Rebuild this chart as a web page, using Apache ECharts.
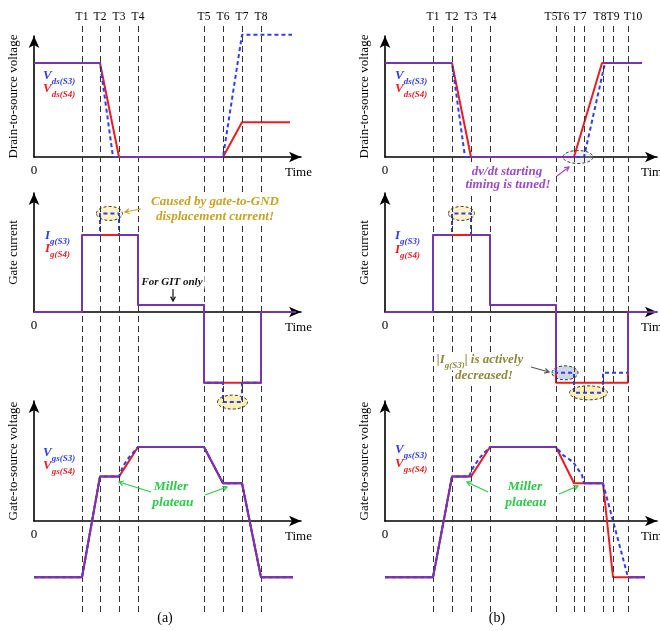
<!DOCTYPE html>
<html>
<head>
<meta charset="utf-8">
<script src="https://cdn.jsdelivr.net/npm/echarts@6/dist/echarts.min.js"></script>
<style>
html, body { margin: 0; padding: 0; background: #fff; }
#c { width: 660px; height: 631px; }
</style>
</head>
<body>
<div id="c"></div>
<script>
// Switching waveforms of the two devices S3 / S4: case (a) and case (b).
// Time is in arbitrary units along each panel's time axis.

const tMarksA = [48, 66, 85, 104, 170, 189, 208, 227];
const tNamesA = ['T1', 'T2', 'T3', 'T4', 'T5', 'T6', 'T7', 'T8'];
const tMarksB = [48, 67, 86, 105, 171, 189, 199, 218, 228, 243];
const tNamesB = ['T1', 'T2', 'T3', 'T4', 'T5', 'T6', 'T7', 'T8', 'T9', 'T10'];

// Drain-to-source voltage (per unit of the blocking voltage)
const vdsS3A = [[0, 1], [66, 1], [79, 0], [189, 0], [208, 1.3], [258, 1.3]];
const vdsS4A = [[0, 1], [66, 1], [85, 0], [189, 0], [208, 0.37], [256, 0.37]];
const vdsS3B = [[0, 1], [67, 1], [80, 0], [199, 0], [220, 1], [257, 1]];
const vdsS4B = [[0, 1], [67, 1], [86, 0], [189, 0], [217, 1], [257, 1]];

// Gate current (per unit of the turn-on gate current)
const igS3A = [[0, 0], [48, 0], [48, 1], [66, 1], [66, 1.28], [85, 1.28], [85, 1], [104, 1], [104, 0.09], [170, 0.09],
  [170, -0.92], [189, -0.92], [189, -1.17], [208, -1.17], [208, -0.92], [227, -0.92], [227, 0], [262, 0]];
const igS4A = [[0, 0], [48, 0], [48, 1], [104, 1], [104, 0.09], [170, 0.09], [170, -0.92], [227, -0.92], [227, 0], [262, 0]];
const igS3B = [[0, 0], [48, 0], [48, 1], [67, 1], [67, 1.28], [86, 1.28], [86, 1], [105, 1], [105, 0.09], [171, 0.09],
  [171, -0.79], [189, -0.79], [189, -1.05], [218, -1.05], [218, -0.79], [243, -0.79], [243, 0], [272, 0]];
const igS4B = [[0, 0], [48, 0], [48, 1], [105, 1], [105, 0.09], [171, 0.09], [171, -0.92], [243, -0.92], [243, 0], [272, 0]];

// Gate-to-source voltage (per unit of the on-state drive level)
const vgsS3A = [[0, -0.76], [48, -0.76], [66, 0.6], [85, 0.6], [89, 0.74], [95, 0.86], [104, 1], [170, 1], [189, 0.51],
  [208, 0.51], [227, -0.76], [259, -0.76]];
const vgsS4A = [[0, -0.76], [48, -0.76], [66, 0.6], [85, 0.6], [104, 1], [170, 1], [189, 0.51], [208, 0.51], [227, -0.76], [259, -0.76]];
const vgsS3B = [[0, -0.76], [48, -0.76], [67, 0.6], [84, 0.6], [88, 0.72], [95, 0.86], [105, 1], [171, 1], [178, 0.89],
  [188, 0.8], [197, 0.62], [199, 0.51], [218, 0.51], [243, -0.76], [260, -0.76]];
const vgsS4B = [[0, -0.76], [48, -0.76], [67, 0.6], [86, 0.6], [105, 1], [171, 1], [189, 0.51], [218, 0.51], [228, -0.76], [260, -0.76]];

// ---------------------------------------------------------------- layout / style
const FONT = '"Liberation Serif", "DejaVu Serif", serif';
const C_S3 = '#2f3cf0', C_S4 = '#ec1c24', C_BOTH = '#7535b0';
const HEAD = 6; // half length of the axis arrow heads

const cols = [{ x: 34, tip: 307 }, { x: 385, tip: 663 }];
const rows = [
  { y: 157, tip: 30, unit: 94, title: 'Drain-to-source voltage' },
  { y: 312, tip: 187, unit: 77, title: 'Gate current' },
  { y: 521, tip: 395, unit: 74, title: 'Gate-to-source voltage' }
];
const waves = [[vdsS3A, vdsS4A], [igS3A, igS4A], [vgsS3A, vgsS4A], [vdsS3B, vdsS4B], [igS3B, igS4B], [vgsS3B, vgsS4B]];
const tLabelShiftB = [0, 0, 0, 0, -5, -11, -4, -3, 0, 5];

// ---------------------------------------------------------------- shared-trace detection
// Where both devices follow the same path the trace is drawn once, in purple.
function segDist(p, a, b, ky) {
  const ax = a[0], ay = a[1] * ky, bx = b[0], by = b[1] * ky, qx = p[0], qy = p[1] * ky;
  const dx = bx - ax, dy = by - ay, L = dx * dx + dy * dy;
  let t = L ? ((qx - ax) * dx + (qy - ay) * dy) / L : 0;
  t = Math.max(0, Math.min(1, t));
  return { d: Math.hypot(ax + t * dx - qx, ay + t * dy - qy), t };
}
function onPoly(p, poly, ky) {
  for (let i = 0; i < poly.length - 1; i++) if (segDist(p, poly[i], poly[i + 1], ky).d < 0.5) return true;
  return false;
}
function sharedRuns(s3, s4, ky) {
  const runs = [];
  let cur = null;
  for (let i = 0; i < s4.length - 1; i++) {
    const a = s4[i], b = s4[i + 1];
    const cuts = [{ p: a, t: 0 }, { p: b, t: 1 }];
    s3.forEach(p => { const r = segDist(p, a, b, ky); if (r.d < 0.5 && r.t > 1e-6 && r.t < 1 - 1e-6) cuts.push({ p, t: r.t }); });
    cuts.sort((u, v) => u.t - v.t);
    for (let k = 0; k < cuts.length - 1; k++) {
      if (cuts[k + 1].t - cuts[k].t < 1e-9) continue;
      const p0 = cuts[k].p, p1 = cuts[k + 1].p, mid = [(p0[0] + p1[0]) / 2, (p0[1] + p1[1]) / 2];
      if (onPoly(p0, s3, ky) && onPoly(p1, s3, ky) && onPoly(mid, s3, ky)) {
        const last = cur && cur[cur.length - 1];
        if (last && last[0] === p0[0] && last[1] === p0[1]) cur.push(p1);
        else { cur = [p0, p1]; runs.push(cur); }
      } else cur = null;
    }
  }
  return runs;
}

// ---------------------------------------------------------------- option
const grids = [], xAxes = [], yAxes = [], series = [];
const axisLine = { show: true, onZero: true, symbol: ['none', 'arrow'], symbolSize: [8, 12], lineStyle: { color: '#000', width: 1.6 } };

cols.forEach((c, ci) => rows.forEach((r, ri) => {
  const gi = grids.length;
  const top = r.tip + HEAD, width = c.tip - HEAD - c.x, height = r.y - top;
  grids.push({ left: c.x, top, width, height, outerBoundsMode: 'none', containLabel: false });
  xAxes.push({
    type: 'value', gridIndex: gi, min: 0, max: width,
    axisLine, axisTick: { show: false }, splitLine: { show: false },
    axisLabel: { show: true, showMinLabel: true, margin: 7, color: '#000', fontFamily: FONT, fontSize: 13,
      formatter: v => (v === 0 ? '0' : '') },
    name: 'Time', nameLocation: 'end', nameGap: 11,
    nameTextStyle: { color: '#000', fontFamily: FONT, fontSize: 13, align: 'right', verticalAlign: 'top', padding: [9, 0, 0, 0] }
  });
  yAxes.push({
    type: 'value', gridIndex: gi, min: 0, max: height / r.unit,
    axisLine, axisTick: { show: false }, splitLine: { show: false }, axisLabel: { show: false },
    name: r.title, nameLocation: 'middle', nameRotate: 90, nameGap: 14,
    nameTextStyle: { color: '#000', fontFamily: FONT, fontSize: 13 }
  });
  const [s3, s4] = waves[gi];
  const base = { type: 'line', xAxisIndex: gi, yAxisIndex: gi, showSymbol: false, clip: false, silent: true, smooth: false };
  series.push(Object.assign({}, base, { data: s4, z: 3, lineStyle: { color: C_S4, width: 2 } }));
  series.push(Object.assign({}, base, { data: s3, z: 4, lineStyle: { color: C_S3, width: 2, type: [4, 3] } }));
  sharedRuns(s3, s4, r.unit).forEach(run => {
    series.push(Object.assign({}, base, { data: run, z: 5, lineStyle: { color: C_BOTH, width: 2 } }));
  });
}));

// timing marks running through all three panels of each column
[[tMarksA, tNamesA, null], [tMarksB, tNamesB, tLabelShiftB]].forEach(([marks, names, shift], ci) => {
  const c = cols[ci];
  const gi = grids.length;
  const width = c.tip - HEAD - c.x;
  grids.push({ left: c.x, top: 26, width, bottom: 19, outerBoundsMode: 'none', containLabel: false });
  xAxes.push({ type: 'value', gridIndex: gi, min: 0, max: width, show: false });
  yAxes.push({ type: 'value', gridIndex: gi, min: 0, max: 1, show: false });
  series.push({
    type: 'line', xAxisIndex: gi, yAxisIndex: gi, data: [], z: 0, silent: true,
    markLine: {
      silent: true, symbol: 'none', animation: false,
      lineStyle: { color: '#333', width: 1, type: [6, 4] },
      label: { show: true, position: 'end', formatter: '{b}', distance: 3, color: '#000', fontFamily: FONT, fontSize: 11.5 },
      data: marks.map((t, i) => {
        const dx = shift ? shift[i] : 0;
        return { xAxis: t, name: names[i], label: { padding: [0, dx < 0 ? -2 * dx : 0, 0, dx > 0 ? 2 * dx : 0] } };
      })
    }
  });
});

const chart = echarts.init(document.getElementById('c'), null, { renderer: 'canvas' });
chart.setOption({ animation: false, grid: grids, xAxis: xAxes, yAxis: yAxes, series });

// ---------------------------------------------------------------- annotations
const toPx = (g, x, y) => chart.convertToPixel({ gridIndex: g }, [x, y]);
const g = [];

function ellipse(gi, x, y, rx, ry, fill) {
  const [cx, cy] = toPx(gi, x, y);
  g.push({ type: 'ellipse', z: 1, silent: true, shape: { cx, cy, rx, ry },
    style: { fill, stroke: '#3a3a3a', lineWidth: 1, lineDash: [3, 2] } });
}
function text(x, y, str, color, size, bg) {
  g.push({ type: 'text', x, y, z: 100, silent: true,
    style: { text: str, fill: color, font: `italic bold ${size}px ${FONT}`, align: 'center', verticalAlign: 'middle',
      textAlign: 'center', textVerticalAlign: 'middle', backgroundColor: bg || null, padding: bg ? [1, 2] : 0 } });
}
function arrow(x1, y1, x2, y2, color) {
  const a = Math.atan2(y2 - y1, x2 - x1), h = 5, w = 0.5;
  g.push({ type: 'polyline', z: 100, silent: true, shape: { points: [[x1, y1], [x2, y2]] }, style: { stroke: color, lineWidth: 1.2, fill: null } });
  g.push({ type: 'polyline', z: 100, silent: true,
    shape: { points: [[x2 - h * Math.cos(a - w), y2 - h * Math.sin(a - w)], [x2, y2], [x2 - h * Math.cos(a + w), y2 - h * Math.sin(a + w)]] },
    style: { stroke: color, lineWidth: 1.2, fill: null } });
}
// italic symbol with a lowered subscript, e.g. V_ds(S3)
function symbolLabel(x, y, main, sub, color, tail) {
  const common = { fontFamily: FONT, fontStyle: 'italic', fontWeight: 'bold', fill: color };
  const rich = {
    m: Object.assign({ fontSize: 13, verticalAlign: 'top', padding: [0, 0, 4, 0] }, common),
    s: Object.assign({ fontSize: 9, verticalAlign: 'bottom' }, common),
    t: Object.assign({ fontSize: 13, verticalAlign: 'top', padding: [0, 0, 4, 0] }, common)
  };
  const str = (tail ? '{t||}' : '') + `{m|${main}}{s|${sub}}` + (tail ? `{t|${tail}}` : '');
  g.push({ type: 'text', x, y, z: 100, silent: true,
    style: { text: str, rich, fill: color, align: tail ? 'center' : 'left', verticalAlign: 'middle',
      textAlign: tail ? 'center' : 'left', textVerticalAlign: 'middle', backgroundColor: tail ? '#fff' : null } });
}

// legends
symbolLabel(43, 78, 'V', 'ds(S3)', C_S3); symbolLabel(43, 91, 'V', 'ds(S4)', C_S4);
symbolLabel(395, 78, 'V', 'ds(S3)', C_S3); symbolLabel(395, 91, 'V', 'ds(S4)', C_S4);
symbolLabel(45, 238, 'I', 'g(S3)', C_S3); symbolLabel(45, 251, 'I', 'g(S4)', C_S4);
symbolLabel(395, 238, 'I', 'g(S3)', C_S3); symbolLabel(395, 252, 'I', 'g(S4)', C_S4);
symbolLabel(43, 455, 'V', 'gs(S3)', C_S3); symbolLabel(43, 468, 'V', 'gs(S4)', C_S4);
symbolLabel(395, 452, 'V', 'gs(S3)', C_S3); symbolLabel(395, 466, 'V', 'gs(S4)', C_S4);

// highlighted regions
ellipse(1, (tMarksA[1] + tMarksA[2]) / 2, igS3A[4][1], 13, 7, '#fbf3c6');
ellipse(1, (tMarksA[5] + tMarksA[6]) / 2, igS3A[12][1], 15, 7, '#fbefb4');
ellipse(3, 193, 0, 15, 6.5, 'rgba(190,200,222,0.25)');
ellipse(4, (tMarksB[1] + tMarksB[2]) / 2, igS3B[4][1], 13, 7, '#fbf3c6');
ellipse(4, (tMarksB[4] + tMarksB[5]) / 2, igS3B[10][1], 13, 7, '#cdd6e6');
ellipse(4, (tMarksB[5] + tMarksB[7]) / 2, igS3B[12][1], 19, 7, '#fbefb4');

// (a) notes
const GOLD = '#c9a125', GREEN = '#2fc94a', VIOLET = '#9a4cc6', OLIVE = '#8d8a3e';
text(215, 202, 'Caused by gate-to-GND', GOLD, 13, '#fff');
text(215, 217, 'displacement current!', GOLD, 13, '#fff');
arrow(141, 209, 125, 212, GOLD);
text(172, 282, 'For GIT only', '#111', 11, '#fff');
arrow(173, 289, 173, 301, '#111');
text(171, 487, 'Miller', GREEN, 13.5);
text(173, 503, 'plateau', GREEN, 13.5);
arrow(151, 492, 119, 482, GREEN);
arrow(205, 495, 227, 487, GREEN);

// (b) notes
text(507, 172, 'dv/dt starting', VIOLET, 13, '#fff');
text(508, 185, 'timing is tuned!', VIOLET, 13, '#fff');
arrow(557, 176, 569, 167, VIOLET);
symbolLabel(480, 362, 'I', 'g(S3)', OLIVE, '| is actively');
text(484, 376, 'decreased!', OLIVE, 13, '#fff');
arrow(531, 367, 549, 372, '#555');
text(525, 487, 'Miller', GREEN, 13.5);
text(526, 503, 'plateau', GREEN, 13.5);
arrow(488, 492, 467, 482, GREEN);
arrow(559, 494, 578, 486, GREEN);

// captions
g.push({ type: 'text', x: 165, y: 618, silent: true, style: { text: '(a)', fill: '#000', font: `14px ${FONT}`, align: 'center', verticalAlign: 'middle', textAlign: 'center', textVerticalAlign: 'middle' } });
g.push({ type: 'text', x: 497, y: 618, silent: true, style: { text: '(b)', fill: '#000', font: `14px ${FONT}`, align: 'center', verticalAlign: 'middle', textAlign: 'center', textVerticalAlign: 'middle' } });

chart.setOption({ graphic: { elements: g } });
</script>
</body>
</html>
